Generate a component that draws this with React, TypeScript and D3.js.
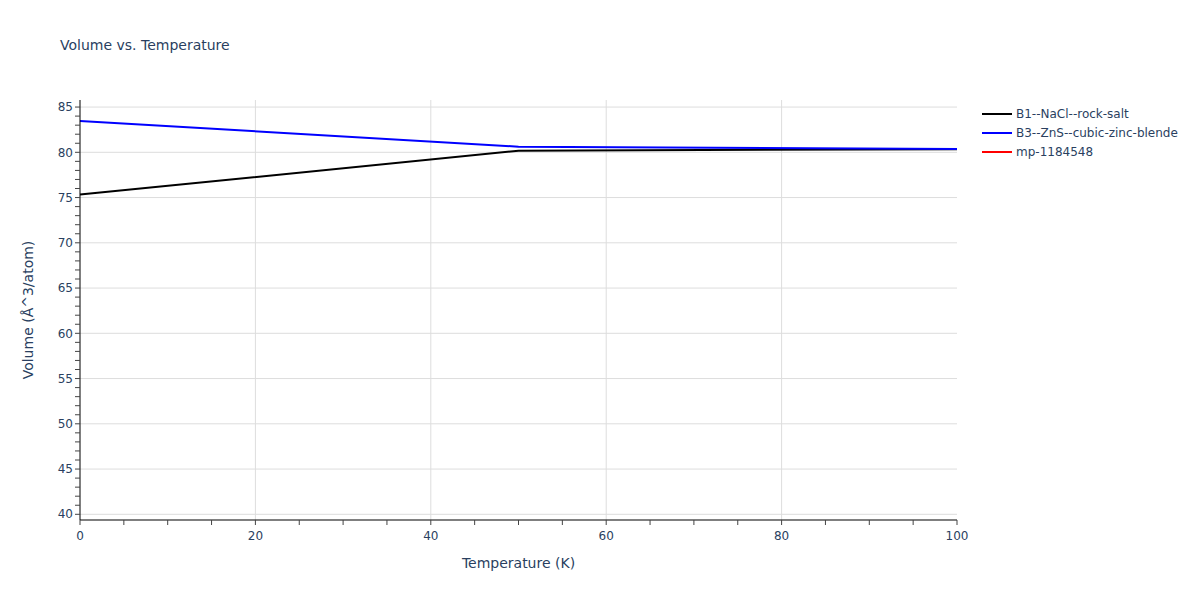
import React from "react";
import * as d3 from "d3";

const temperatures = [0, 50, 100];
const rockSalt = [75.33, 80.18, 80.35];
const zincBlende = [83.47, 80.62, 80.37];
const mpTemps: number[] = [];
const mpValues: number[] = [];

const seriesNames = ["B1--NaCl--rock-salt", "B3--ZnS--cubic-zinc-blende", "mp-1184548"];
const seriesColors = ["#000000", "#0000ff", "#ff0000"];
const xTicks = [0, 20, 40, 60, 80, 100];
const yTicks = [40, 45, 50, 55, 60, 65, 70, 75, 80, 85];

const W = 1200, H = 600;
const L = 80, R = 957, T = 100, B = 520;
const FONT = '"DejaVu Sans", Verdana, sans-serif';
const TXT = "#2a3f5f";

export default function App() {
  const x = d3.scaleLinear().domain([0, 100]).range([L, R]);
  const y = d3.scaleLinear().domain([39.37, 85.78]).range([B, T]);
  const line = d3.line<[number, number]>().x(d => x(d[0])).y(d => y(d[1]));
  const series = [
    temperatures.map((t, i) => [t, rockSalt[i]] as [number, number]),
    temperatures.map((t, i) => [t, zincBlende[i]] as [number, number]),
    mpTemps.map((t, i) => [t, mpValues[i]] as [number, number]),
  ];
  const xMinor = d3.range(0, 100.001, 5);
  const yMinor = d3.range(40, 85.001, 1);

  return (
    <svg width={W} height={H} style={{ position: "absolute", left: 0, top: 0, fontFamily: FONT }}>
      <rect width={W} height={H} fill="#fff" />
      <text x={60} y={50} fontSize={14} fill={TXT}>Volume vs. Temperature</text>
      {xTicks.filter(t => t > 0 && t < 100).map(t => (
        <line key={"gx" + t} x1={x(t)} x2={x(t)} y1={T} y2={B} stroke="#dddddd" strokeWidth={1} />
      ))}
      {yTicks.map(t => (
        <line key={"gy" + t} x1={L} x2={R} y1={y(t)} y2={y(t)} stroke="#dddddd" strokeWidth={1} />
      ))}
      {series.map((s, i) => s.length > 0 ? (
        <path key={"s" + i} d={line(s) || ""} fill="none" stroke={seriesColors[i]} strokeWidth={2} />
      ) : null)}
      <line x1={L} x2={L} y1={T} y2={B} stroke="#000" strokeWidth={1} />
      <line x1={L} x2={R} y1={B} y2={B} stroke="#000" strokeWidth={1} />
      {yMinor.map(t => (
        <line key={"ym" + t} x1={L - 5} x2={L} y1={y(t)} y2={y(t)} stroke="#444" strokeWidth={1} />
      ))}
      {xMinor.map(t => (
        <line key={"xm" + t} x1={x(t)} x2={x(t)} y1={B} y2={B + 5} stroke="#444" strokeWidth={1} />
      ))}
      {yTicks.map(t => (
        <text key={"yl" + t} x={L - 7} y={y(t)} dy="0.35em" textAnchor="end" fontSize={12} fill={TXT}>{t}</text>
      ))}
      {xTicks.map(t => (
        <text key={"xl" + t} x={x(t)} y={B + 20} textAnchor="middle" fontSize={12} fill={TXT}>{t}</text>
      ))}
      <text x={(L + R) / 2} y={568} textAnchor="middle" fontSize={14} fill={TXT}>Temperature (K)</text>
      <text transform={`translate(33,${(T + B) / 2}) rotate(-90)`} textAnchor="middle" fontSize={14} fill={TXT}>Volume (Å^3/atom)</text>
      {seriesNames.map((n, i) => (
        <g key={"lg" + i} transform={`translate(982,${114 + i * 19})`}>
          <line x1={0} x2={30} y1={0} y2={0} stroke={seriesColors[i]} strokeWidth={2} />
          <text x={34} y={0} dy="0.35em" fontSize={12} fill={TXT}>{n}</text>
        </g>
      ))}
    </svg>
  );
}
